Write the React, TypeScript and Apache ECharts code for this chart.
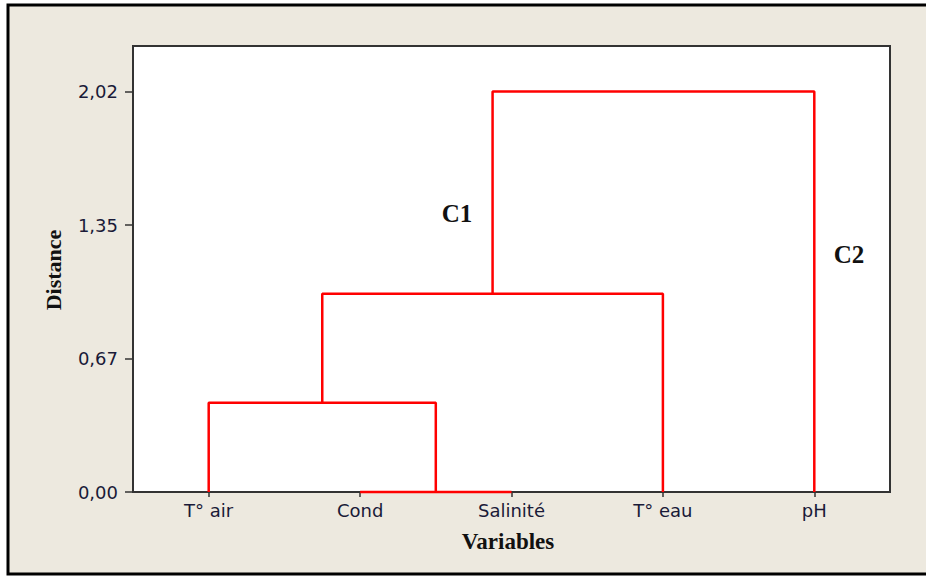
import React, { useEffect, useRef } from "react";
import * as echarts from "echarts";

// Leaves in dendrogram order
const categories = ["T° air", "Cond", "Salinité", "T° eau", "pH"];
// Linkage (scipy style): leaves 0..4, merged clusters 5..8
const linkLeft = [1, 0, 6, 7];
const linkRight = [2, 5, 3, 4];
const linkHeight = [0.0, 0.45, 1.0, 2.02];

const yTickValues = [0, 2.02 / 3, (2.02 * 2) / 3, 2.02];
const yTickLabels = ["0,00", "0,67", "1,35", "2,02"];
const yMax = 2.25;

const clusterLabels = ["C1", "C2"];
const xTitle = "Variables";
const yTitle = "Distance";

function buildLinks() {
  const nodeX: number[] = categories.map((_, i) => i);
  const nodeH: number[] = categories.map(() => 0);
  const links: number[][][] = [];
  for (let k = 0; k < linkLeft.length; k++) {
    const l = linkLeft[k];
    const r = linkRight[k];
    const h = linkHeight[k];
    links.push([
      [nodeX[l], nodeH[l]],
      [nodeX[l], h],
      [nodeX[r], h],
      [nodeX[r], nodeH[r]],
    ]);
    nodeX.push((nodeX[l] + nodeX[r]) / 2);
    nodeH.push(h);
  }
  return links;
}

export default function App() {
  const ref = useRef<HTMLDivElement>(null);
  useEffect(() => {
    if (!ref.current) return;
    const chart = echarts.init(ref.current, null, { renderer: "svg" });
    const links = buildLinks();
    const labelColor = "#1a1a38";
    const tickFont = "DejaVu Sans";
    const titleFont = "Liberation Serif";
    const xIdx = categories.map((_, i) => i);
    chart.setOption({
      animation: false,
      backgroundColor: "#ffffff",
      grid: {
        left: 133,
        top: 46,
        right: 36,
        bottom: 84,
        show: true,
        backgroundColor: "#ffffff",
        borderColor: "#333333",
        borderWidth: 2,
      },
      xAxis: {
        type: "value",
        min: -0.5,
        max: categories.length - 0.5,
        splitLine: { show: false },
        axisLine: { show: false, onZero: false },
        axisTick: {
          show: true,
          length: 5,
          customValues: xIdx,
          lineStyle: { color: "#333333", width: 1.5 },
        },
        axisLabel: {
          customValues: xIdx,
          formatter: (v: number) => categories[Math.round(v)] ?? "",
          color: labelColor,
          fontFamily: tickFont,
          fontSize: 18,
          margin: 9,
        },
      },
      yAxis: {
        type: "value",
        min: 0,
        max: yMax,
        splitLine: { show: false },
        axisLine: { show: false, onZero: false },
        axisTick: {
          show: true,
          length: 8,
          customValues: yTickValues,
          lineStyle: { color: "#333333", width: 1.5 },
        },
        axisLabel: {
          customValues: yTickValues,
          formatter: (v: number) => {
            let best = 0;
            yTickValues.forEach((t, i) => {
              if (Math.abs(t - v) < Math.abs(yTickValues[best] - v)) best = i;
            });
            return yTickLabels[best];
          },
          color: labelColor,
          fontFamily: tickFont,
          fontSize: 18,
          margin: 15,
        },
      },
      graphic: [
        {
          type: "rect",
          z: -10,
          silent: true,
          shape: { x: 8, y: 5, width: 930, height: 569 },
          style: { fill: "#ede9df", stroke: "#000000", lineWidth: 3 },
        },
        {
          type: "text",
          x: 457,
          y: 213,
          style: {
            text: clusterLabels[0],
            font: `bold 25px "${titleFont}"`,
            fill: "#111111",
            align: "center",
            verticalAlign: "middle",
          },
        },
        {
          type: "text",
          x: 849,
          y: 254,
          style: {
            text: clusterLabels[1],
            font: `bold 25px "${titleFont}"`,
            fill: "#111111",
            align: "center",
            verticalAlign: "middle",
          },
        },
        {
          type: "text",
          x: 508,
          y: 541,
          style: {
            text: xTitle,
            font: `bold 23px "${titleFont}"`,
            fill: "#111111",
            align: "center",
            verticalAlign: "middle",
          },
        },
        {
          type: "text",
          x: 53,
          y: 270,
          rotation: Math.PI / 2,
          style: {
            text: yTitle,
            font: `bold 22px "${titleFont}"`,
            fill: "#111111",
            align: "center",
            verticalAlign: "middle",
          },
        },
      ],
      series: links.map((pts, k) => ({
        type: "line",
        name: "link" + k,
        data: pts,
        symbol: "none",
        clip: false,
        lineStyle: { color: "#ff0000", width: 2.5 },
        z: 5,
      })),
    });
    return () => chart.dispose();
  }, []);
  return (
    <div
      ref={ref}
      style={{ position: "absolute", left: 0, top: 0, width: 926, height: 576 }}
    />
  );
}
